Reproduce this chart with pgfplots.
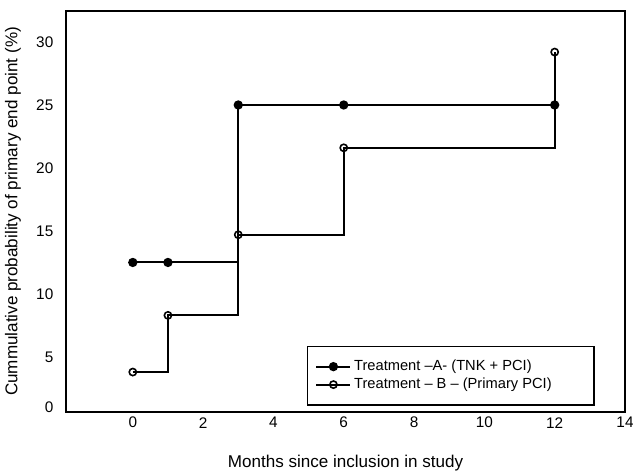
\documentclass[border=0pt]{standalone}
\usepackage{fontspec}
\setmainfont{Liberation Sans}
\usepackage{pgfplots}
\pgfplotsset{compat=1.18}

\begin{document}
\begin{tikzpicture}
\begin{axis}[
    at={(0,0)}, anchor=south west,
    scale only axis,
    width=419.25pt, height=300.75pt,
    xmin=-1.9, xmax=14,
    ymin=0.63, ymax=32.46,
    xtick={0,2,...,14},
    ytick={5,10,...,30},
    extra y ticks={1}, extra y tick labels={0},
    major tick length=0pt,
    axis line style={line width=1.4pt},
    /pgf/number format/assume math mode=true,
    tick label style={font=\fontsize{11.5}{13}\selectfont},
    xticklabel style={anchor=center, yshift=-8pt},
    yticklabel style={anchor=east, xshift=-6pt},
    xlabel={Months since inclusion in study},
    ylabel={Cummulative probability of primary end point (\%)},
    label style={font=\fontsize{12.8}{15}\selectfont},
    xlabel style={at={(axis description cs:0.5,-0.127)}, anchor=center},
    ylabel style={at={(axis description cs:-0.0949,0.5)}, anchor=center},
    legend style={at={(0.946,0.016)}, anchor=south east, draw=black, line width=1pt,
        font=\fontsize{11}{13}\selectfont, inner ysep=8.5pt, inner xsep=6pt, row sep=0pt},
    legend cell align=left,
    legend image code/.code={
        \draw[mark repeat=2, mark phase=2, #1] plot coordinates {(0cm,0cm) (0.45cm,0cm) (0.9cm,0cm)};
    },
]
\addplot[const plot, black, line width=1.5pt, mark=*, mark size=2.7pt] coordinates {
    (0,12.5) (1,12.5) (3,25) (6,25) (12,25)
};
\addlegendentry{\makebox[172pt][l]{Treatment –A- (TNK + PCI)}}
\addplot[const plot, black, line width=1.5pt, mark=o, mark size=2.7pt,
    mark options={fill=white, line width=1.2pt}] coordinates {
    (0,3.8) (1,8.3) (3,14.7) (6,21.6) (12,29.2)
};
\addlegendentry{Treatment – B – (Primary PCI)}
\addplot[only marks, black, mark=*, mark size=2.7pt, forget plot] coordinates {
    (0,12.5) (1,12.5) (3,25) (6,25) (12,25)
};
\end{axis}
\pgfresetboundingbox
\path (-49.5pt,-47.25pt) rectangle (425.25pt,309pt);
\end{tikzpicture}
\end{document}
